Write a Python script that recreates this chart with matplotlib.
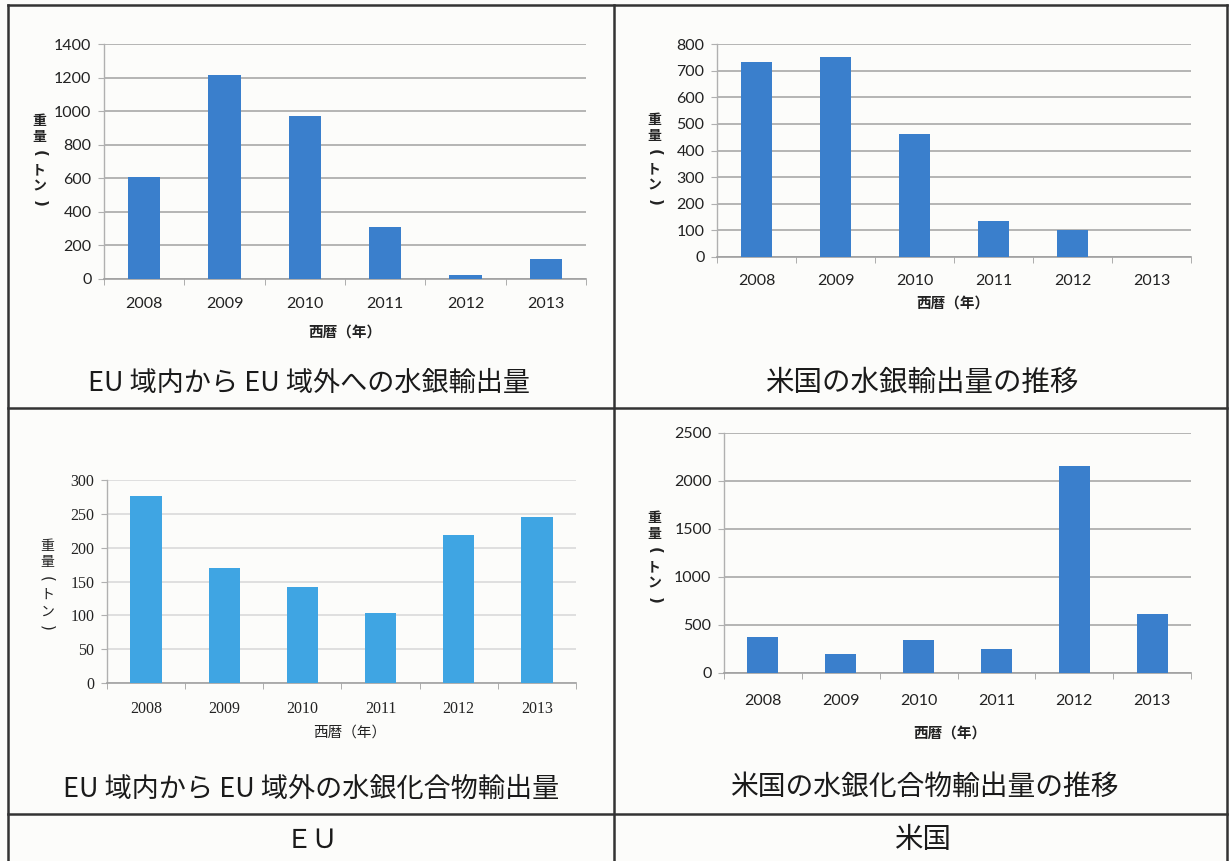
import matplotlib
matplotlib.use('Agg')
import matplotlib.pyplot as plt
from matplotlib.lines import Line2D
from matplotlib.ticker import MultipleLocator, FixedLocator

plt.rcParams['font.family'] = ['Noto Sans CJK JP', 'DejaVu Sans']

years = ['2008', '2009', '2010', '2011', '2012', '2013']
eu_mercury = [605, 1218, 971, 310, 26, 119]
us_mercury = [731, 750, 462, 134, 102, 0]
eu_compound = [276, 170, 142, 104, 219, 246]
us_compound = [372, 198, 340, 247, 2153, 618]

titles = ['EU 域内から EU 域外への水銀輸出量', '米国の水銀輸出量の推移',
          'EU 域内から EU 域外の水銀化合物輸出量', '米国の水銀化合物輸出量の推移']
footers = ['ＥＵ', '米国']
ylabel = '重量(トン)'
xlabel = '西暦（年）'

W, H = 1229, 861
fig = plt.figure(figsize=(W / 100, H / 100), dpi=100, facecolor='#fcfcfa')


def fx(x):
    return x / W


def fy(y):
    return 1 - y / H


panels = [
    dict(box=(104, 586, 44, 279), vals=eu_mercury, ymax=1400, step=200, color='#3a7fcc',
         grid='#a8a8a8', serif=False, ylab=(39, 162), xlab=(345, 332), title=(309, 383),
         tsize=19.5, tickpad=13),
    dict(box=(717, 1191, 44, 257), vals=us_mercury, ymax=800, step=100, color='#3a7fcc',
         grid='#a8a8a8', serif=False, ylab=(654, 161), xlab=(953, 303), title=(922, 383),
         tsize=20.5, tickpad=12),
    dict(box=(107, 576, 480, 683), vals=eu_compound, ymax=300, step=50, color='#3fa5e3',
         grid='#dadada', serif=True, ylab=(47, 587), xlab=(350, 733), title=(311, 789),
         tsize=19.5, tickpad=13),
    dict(box=(724, 1191, 433, 673), vals=us_compound, ymax=2500, step=500, color='#3a7fcc',
         grid='#a8a8a8', serif=False, ylab=(654, 559), xlab=(950, 733), title=(924, 787),
         tsize=20, tickpad=15),
]

for i, p in enumerate(panels):
    l, r, t, b = p['box']
    ax = fig.add_axes([fx(l), fy(b), (r - l) / W, (b - t) / H])
    ax.set_facecolor('none')
    xs = list(range(len(years)))
    ax.bar(xs, p['vals'], width=0.4, color=p['color'], zorder=3)
    ax.set_xlim(-0.5, len(years) - 0.5)
    ax.set_ylim(0, p['ymax'])
    ax.yaxis.set_major_locator(MultipleLocator(p['step']))
    ax.grid(axis='y', color=p['grid'], linewidth=1.2, zorder=0)
    for s in ['top', 'right']:
        ax.spines[s].set_visible(False)
    ax.spines['left'].set_color('#b0b0b0')
    ax.spines['bottom'].set_color('#a0a0a0')
    ax.spines['left'].set_linewidth(1.0)
    ax.spines['bottom'].set_linewidth(1.2)
    ax.set_xticks(xs)
    ax.set_xticklabels(years)
    ax.xaxis.set_minor_locator(FixedLocator([k - 0.5 for k in range(len(years) + 1)]))
    ax.tick_params(axis='x', which='major', length=0, pad=p['tickpad'])
    ax.tick_params(axis='x', which='minor', length=4, color='#a0a0a0', direction='out')
    ax.tick_params(axis='y', length=4, color='#b0b0b0', pad=5)
    if p['serif']:
        fam = ['Liberation Serif', 'DejaVu Serif']
    else:
        fam = ['Lato', 'DejaVu Sans']
    for lab in ax.get_xticklabels() + ax.get_yticklabels():
        lab.set_family(fam)
        lab.set_fontsize(11.5)
        lab.set_color('#222222')
    bold = 'normal' if p['serif'] else 'bold'
    n = len(ylabel)
    step = 16.5
    y0 = p['ylab'][1] - step * (n - 1) / 2
    for k, ch in enumerate(ylabel):
        paren = ch in '()'
        fig.text(fx(p['ylab'][0]), fy(y0 + k * step), ch, ha='center', va='center',
                 fontsize=11 if paren else 10, fontweight=bold,
                 rotation=-90 if paren else 0, rotation_mode='anchor' if False else 'default',
                 family=['DejaVu Sans'] if paren else None, color='#222222')
    fig.text(fx(p['xlab'][0]), fy(p['xlab'][1]), xlabel, ha='center', va='center',
             fontsize=10.5, fontweight=bold, color='#222222')
    fig.text(fx(p['title'][0]), fy(p['title'][1]), titles[i], ha='center', va='center',
             fontsize=p['tsize'], color='#1a1a1a')

fig.text(fx(312), fy(840), footers[0], ha='center', va='center', fontsize=19, color='#1a1a1a')
fig.text(fx(923), fy(840), footers[1], ha='center', va='center', fontsize=20.5, color='#1a1a1a')

# table frame
lc = '#333333'
for (x0, y0, x1, y1) in [(8, 5, 1227, 5), (8, 408, 1227, 408), (8, 814, 1227, 814),
                         (8, 5, 8, 861), (614, 5, 614, 861), (1227, 5, 1227, 861)]:
    fig.add_artist(Line2D([fx(x0), fx(x1)], [fy(y0), fy(y1)], color=lc, linewidth=1.8))

fig.savefig('out.png', dpi=100, facecolor=fig.get_facecolor())
